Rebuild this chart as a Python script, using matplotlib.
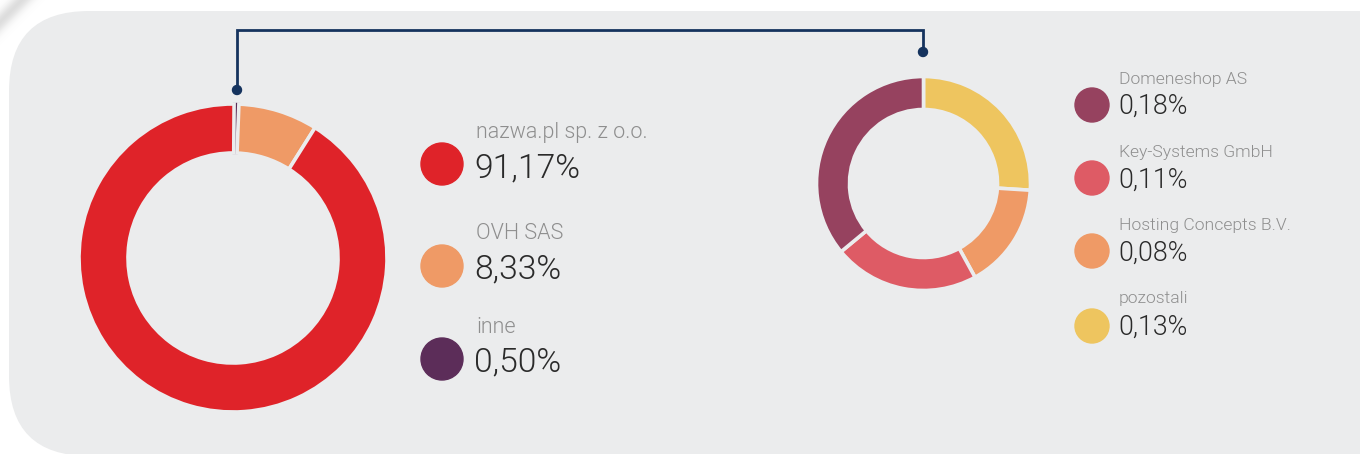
import numpy as np
import matplotlib.pyplot as plt
from matplotlib.patches import FancyBboxPatch, Circle

W, H = 1360, 454

main_names = ["nazwa.pl sp. z o.o.", "OVH SAS", "inne"]
main_values = [91.17, 8.33, 0.50]
main_colors = ["#df2329", "#ef9a66", "#5c2d59"]

other_names = ["Domeneshop AS", "Key-Systems GmbH", "Hosting Concepts B.V.", "pozostali"]
other_values = [0.18, 0.11, 0.08, 0.13]
other_colors = ["#96425f", "#de5b65", "#ef9a66", "#eec55f"]

BG = "#ebeced"
NAVY = "#15335e"
FONT = "Roboto"
LIGHT = 300  # Roboto Light; "light" in matplotlib means 200 and picks Thin


def Y(y):
    # picture rows run downward, axes upward
    return H - y


def fmt(v):
    return f"{v:.2f}".replace(".", ",") + "%"


fig = plt.figure(figsize=(W / 100, H / 100), dpi=100)
fig.patch.set_facecolor("white")
ax = fig.add_axes([0, 0, 1, 1])

# faint page-curl shadow in the top left corner
gx, gy = np.meshgrid(np.arange(60), np.arange(60))
band = np.exp(-((gx + gy - 22) / 11.0) ** 2) * np.clip(1 - (gx + gy) / 75, 0, 1)
shade = np.zeros((60, 60, 4))
shade[..., :3] = 0.74
shade[..., 3] = band * 0.7
ax.imshow(shade, extent=(0, 60, Y(60), Y(0)), origin="upper", zorder=-1,
          interpolation="bilinear")

# grey card with rounded corners
card = FancyBboxPatch((9, Y(456)), 1500, 445, boxstyle="round,pad=0,rounding_size=80",
                      facecolor=BG, edgecolor="none", zorder=0)
ax.add_patch(card)

# left donut: inne, OVH, nazwa.pl clockwise from the top
wedges, _ = ax.pie(main_values[::-1], colors=main_colors[::-1],
                   startangle=89.6, counterclock=False,
                   center=(233, Y(258)), radius=154,
                   wedgeprops=dict(width=49, edgecolor=BG, linewidth=2.6))
# keep the tiny "inne" sliver visible
wedges[0].set_edgecolor(main_colors[2])
wedges[0].set_linewidth(1.8)

# right donut: breakdown of "inne"
ax.pie(other_values[::-1], colors=other_colors[::-1], startangle=90,
       counterclock=False, center=(923.5, Y(183.5)), radius=107,
       wedgeprops=dict(width=33, edgecolor=BG, linewidth=2.6))

# connector between the two charts
ax.plot([237, 237, 923, 923], [Y(90), Y(30), Y(30), Y(52)], color=NAVY, lw=2.0,
        solid_joinstyle="miter", zorder=3)
ax.add_patch(Circle((237, Y(90)), 4.5, color=NAVY, zorder=4))
ax.add_patch(Circle((923, Y(52)), 4.5, color=NAVY, zorder=4))

# left legend
for i, (name, val, col) in enumerate(zip(main_names, main_values, main_colors)):
    yc = [164, 266, 359][i]
    ax.add_patch(Circle((442, Y(yc)), 21, color=col, zorder=3))
    ax.text(476, Y([138, 239, 333][i]), name, fontsize=15.5, color="#8e8e8e",
            family=FONT, fontweight=LIGHT, va="baseline")
    ax.text(474, Y([177, 278, 371][i]), fmt(val), fontsize=24.2, color="#2a2a2a",
            family=FONT, fontweight=LIGHT, va="baseline")

# right legend
for i, (name, val, col) in enumerate(zip(other_names, other_values, other_colors)):
    yc = [105, 178, 251, 326][i]
    ax.add_patch(Circle((1092, Y(yc)), 17, color=col, zorder=3))
    ax.text(1119, Y([84, 157, 230, 303][i]), name, fontsize=12.6, color="#8e8e8e",
            family=FONT, fontweight=LIGHT, va="baseline")
    ax.text(1118, Y([114, 188, 261, 335][i]), fmt(val), fontsize=19.3, color="#2a2a2a",
            family=FONT, fontweight=LIGHT, va="baseline")

ax.set_xlim(0, W)
ax.set_ylim(0, H)
ax.set_aspect("equal")
ax.axis("off")

fig.savefig("out.png", dpi=100, facecolor="white")
